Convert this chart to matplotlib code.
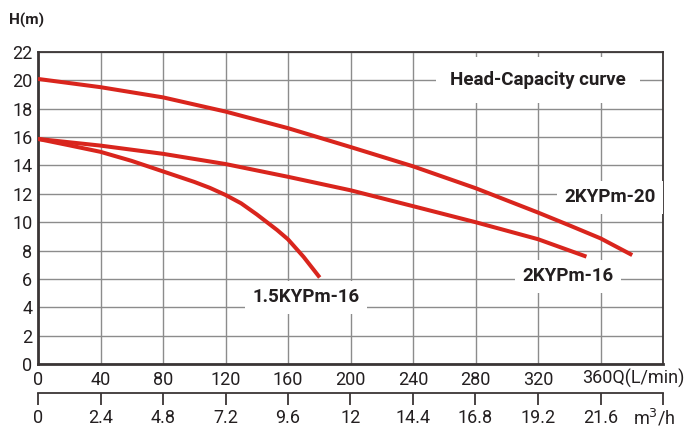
import matplotlib
matplotlib.use("Agg")
import matplotlib.pyplot as plt
import numpy as np

plt.rcParams['font.family'] = ['Roboto', 'DejaVu Sans']

# Data (Q in L/min, H in m)
q_2kypm20 = [0, 40, 80, 120, 160, 200, 240, 280, 320, 340, 360, 380.3]
h_2kypm20 = [20.1, 19.52, 18.8, 17.8, 16.63, 15.3, 13.94, 12.4, 10.68, 9.78, 8.86, 7.68]

q_2kypm16 = [0, 40, 80, 120, 160, 200, 240, 280, 320, 351]
h_2kypm16 = [15.87, 15.4, 14.82, 14.1, 13.2, 12.25, 11.13, 10.0, 8.8, 7.57]

q_15kypm16 = [0, 20, 40, 60, 80, 100, 110, 120, 130, 140, 153, 160, 170, 180.3]
h_15kypm16 = [15.87, 15.42, 14.96, 14.32, 13.58, 12.84, 12.42, 11.92, 11.33, 10.55, 9.45, 8.79, 7.55, 6.1]

x_ticks = [0, 40, 80, 120, 160, 200, 240, 280, 320, 360]
x_labels = ['0', '40', '80', '120', '160', '200', '240', '280', '320', '']
y_ticks = [0, 2, 4, 6, 8, 10, 12, 14, 16, 18, 20, 22]
m3h_ticks = [0, 2.4, 4.8, 7.2, 9.6, 12, 14.4, 16.8, 19.2, 21.6, 24]
m3h_labels = ['0', '2.4', '4.8', '7.2', '9.6', '12', '14.4', '16.8', '19.2', '21.6', '']

RED = '#d9251d'
TXT = '#231f20'
GRID = '#8c8c8c'
FS = 13

fig = plt.figure(figsize=(6.94, 4.28), dpi=100)
W, Hh = 694, 428
ax = fig.add_axes([38 / W, 1 - 364 / Hh, (663 - 38) / W, (364 - 52) / Hh])

ax.set_xlim(0, 400)
ax.set_ylim(0, 22)
ax.set_xticks(x_ticks + [400])
ax.set_xticklabels(x_labels + [''])
ax.set_yticks(y_ticks)
ax.grid(True, color=GRID, lw=1.0, zorder=0)
ax.set_axisbelow(True)
ax.tick_params(axis='x', length=0, pad=5.0, labelsize=FS, labelcolor=TXT)
ax.tick_params(axis='y', length=0, pad=4.0, labelsize=FS, labelcolor=TXT)

for side in ['left', 'bottom']:
    ax.spines[side].set_linewidth(2.0)
    ax.spines[side].set_color('#3a3535')
for side in ['top', 'right']:
    ax.spines[side].set_linewidth(1.3)
    ax.spines[side].set_color('#3a3535')

lw = 2.9
for q, h in [(q_2kypm20, h_2kypm20), (q_2kypm16, h_2kypm16), (q_15kypm16, h_15kypm16)]:
    ax.plot(q, h, color=RED, lw=lw, solid_capstyle='butt', solid_joinstyle='round', zorder=3)

def px2q(px):
    return (px - 38) / 625 * 400

def py2h(py):
    return (364 - py) / 312 * 22

def label(x, y, s, padv=0.6, fs=13.5):
    ax.text(x, y, s, fontsize=fs, fontweight='bold', color=TXT, ha='center', va='center',
            bbox=dict(boxstyle='square,pad=%s' % padv, fc='white', ec='none'), zorder=4)

label(px2q(538), py2h(80), 'Head-Capacity curve', padv=0.75)
label(px2q(610), py2h(197), '2KYPm-20', padv=0.4)
label(px2q(568), py2h(276), '2KYPm-16', padv=0.4)
label(px2q(306), py2h(297), '1.5KYPm-16', padv=0.4)

# last primary tick label joined with the unit
ax.annotate('360Q(L/min)', xy=(582 / W, 1 - 378 / Hh), xycoords='figure fraction',
            fontsize=FS, color=TXT, ha='left', va='center', annotation_clip=False)

# secondary m3/h axis
sec = ax.secondary_xaxis((364 - 393) / 312, functions=(lambda q: q * 0.06, lambda m: m / 0.06))
sec.set_xticks(m3h_ticks)
sec.set_xticklabels(m3h_labels)
sec.tick_params(axis='x', direction='out', length=8.6, width=1.3, color='#3a3535',
                pad=3.2, labelsize=FS, labelcolor=TXT)
sec.spines['bottom'].set_linewidth(1.3)
sec.spines['bottom'].set_color('#3a3535')

fig.text(633 / W, 1 - 418 / Hh, 'm$^3$/h', fontsize=FS, color=TXT, ha='left', va='center')
fig.text(9 / W, 1 - 20 / Hh, 'H(m)', fontsize=11, fontweight='bold', color=TXT, ha='left', va='center')

fig.savefig('out.png', dpi=100)
